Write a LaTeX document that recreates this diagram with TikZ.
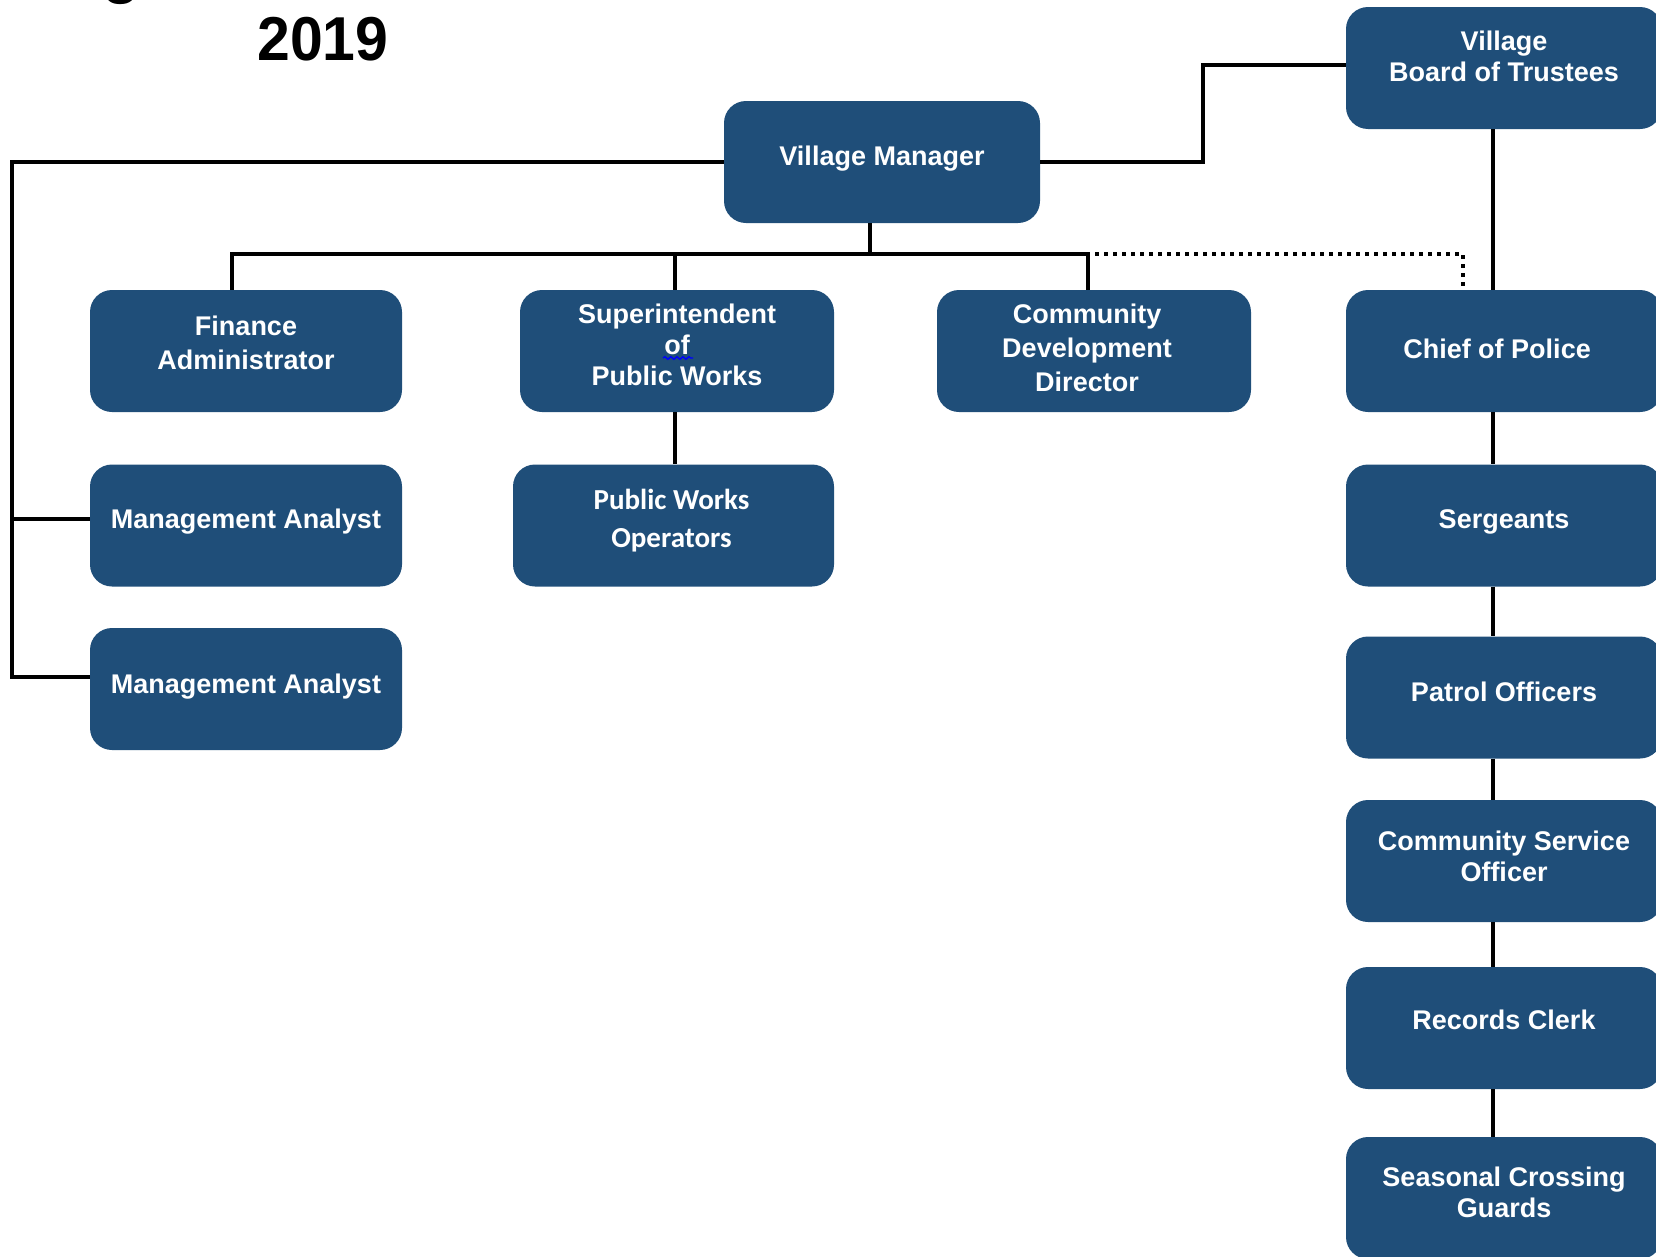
\documentclass[tikz,border=0pt]{standalone}
\usepackage{fontspec}
\setmainfont{Liberation Sans}
\newfontfamily\calfont{Carlito}
\usetikzlibrary{decorations.pathmorphing}
\definecolor{boxblue}{HTML}{1F4E79}
\begin{document}
\begin{tikzpicture}[x=1pt,y=-1pt,
  box/.style={draw=none, fill=boxblue, rounded corners=22pt,
    minimum width=316pt, minimum height=122pt, inner sep=0pt},
  lab/.style={text=white, font=\bfseries\fontsize{27}{31}\selectfont,
    align=center, inner sep=0pt},
  widelab/.style={lab, font=\bfseries\fontsize{27}{34}\selectfont},
  conn/.style={line width=4pt, black},
  dotconn/.style={line width=3.5pt, black, dash pattern=on 3.5pt off 5.5pt}]
\useasboundingbox (0,0) rectangle (1656,1256);

% title
\node[font=\bfseries\fontsize{62}{70}\selectfont, anchor=base, xscale=0.95] (title) at (323,60) {2019};
\node[font=\bfseries\fontsize{62}{70}\selectfont, anchor=base] (titleg) at (121,-9) {g};

% boxes
\node[box] (board) at (1504,68) {};
\node[box] (vm) at (882,162) {};
\node[box, minimum width=312pt] (fin) at (246,351) {};
\node[box, minimum width=314pt] (sup) at (677,351) {};
\node[box, minimum width=314pt] (cdd) at (1094,351) {};
\node[box] (chief) at (1504,351) {};
\node[box, minimum width=312pt] (ma1) at (246,525.5) {};
\node[box, minimum width=321pt] (pwo) at (673.5,525.5) {};
\node[box, minimum width=312pt] (ma2) at (246,689) {};
\node[box] (serg) at (1504,525.5) {};
\node[box] (patrol) at (1504,697.5) {};
\node[box] (cso) at (1504,861) {};
\node[box] (rec) at (1504,1028) {};
\node[box] (scg) at (1504,1198) {};

% texts
\node[lab] (boardt) at ([yshift=12pt]board.center) {Village\\Board of Trustees};
\node[lab] (vmt) at ([yshift=3pt]vm.center) {Village Manager};
\node[widelab] (fint) at ([yshift=8pt]fin.center) {Finance\\Administrator};
\node[lab] (supt) at ([yshift=6pt]sup.center) {Superintendent\\of\\Public Works};
\node[widelab] (cddt) at ([xshift=-7pt,yshift=3pt]cdd.center) {Community\\Development\\Director};
\node[lab] (chieft) at ([xshift=-7pt,yshift=2pt]chief.center) {Chief of Police};
\node[lab] (ma1t) at ([yshift=4pt]ma1.center) {Management Analyst};
\node[lab, font=\calfont\bfseries\fontsize{29}{38}\selectfont] (pwot) at ([xshift=-2pt,yshift=5pt]pwo.center) {Public Works\\Operators};
\node[lab] (ma2t) at ([yshift=2pt]ma2.center) {Management Analyst};
\node[lab] (sergt) at ([yshift=4pt]serg.center) {Sergeants};
\node[lab] (patrolt) at ([yshift=6pt]patrol.center) {Patrol Officers};
\node[lab] (csot) at ([yshift=5pt]cso.center) {Community Service\\Officer};
\node[lab] (rect) at ([yshift=8pt]rec.center) {Records Clerk};
\node[lab] (scgt) at ([yshift=6pt]scg.center) {Seasonal Crossing\\Guards};

% spell-check squiggle
\draw[blue, line width=1.3pt, decorate, decoration={snake, amplitude=1.4pt, segment length=6pt}] (663,358) -- (693,358);

% manager to board
\coordinate (mx) at (1203,162);
\draw[conn] (vm.east) -- (mx) |- ([yshift=3pt]board.west);

% left spine
\coordinate (lx) at (12,162);
\coordinate (m1) at ([yshift=7pt]ma1.west);
\coordinate (m2) at ([yshift=12pt]ma2.west);
\draw[conn] (vm.west) -- (lx) |- (m2);
\draw[conn] (m1 -| lx) -- (m1);

% bus
\coordinate (busc) at (870,254);
\coordinate (busL) at (232,254);
\coordinate (busS) at (675,254);
\coordinate (busR) at (1088,254);
\coordinate (dotc) at (1463,254);
\draw[conn] (busc |- vm.south) -- (busc);
\draw[conn] (busL |- fin.north) -- (busL) -- (busR) -- (busR |- cdd.north);
\draw[conn] (busS) -- (busS |- sup.north);
\draw[conn] (busS |- sup.south) -- (busS |- pwo.north);
\draw[dotconn] ([xshift=7pt]busR) -- (dotc) -- (dotc |- chief.north);

% police chain
\coordinate (rx) at (1493,0);
\draw[conn] (rx |- board.south) -- (rx |- chief.north);
\draw[conn] (rx |- chief.south) -- (rx |- serg.north);
\draw[conn] (rx |- serg.south) -- (rx |- patrol.north);
\draw[conn] (rx |- patrol.south) -- (rx |- cso.north);
\draw[conn] (rx |- cso.south) -- (rx |- rec.north);
\draw[conn] (rx |- rec.south) -- (rx |- scg.north);
\end{tikzpicture}
\end{document}
